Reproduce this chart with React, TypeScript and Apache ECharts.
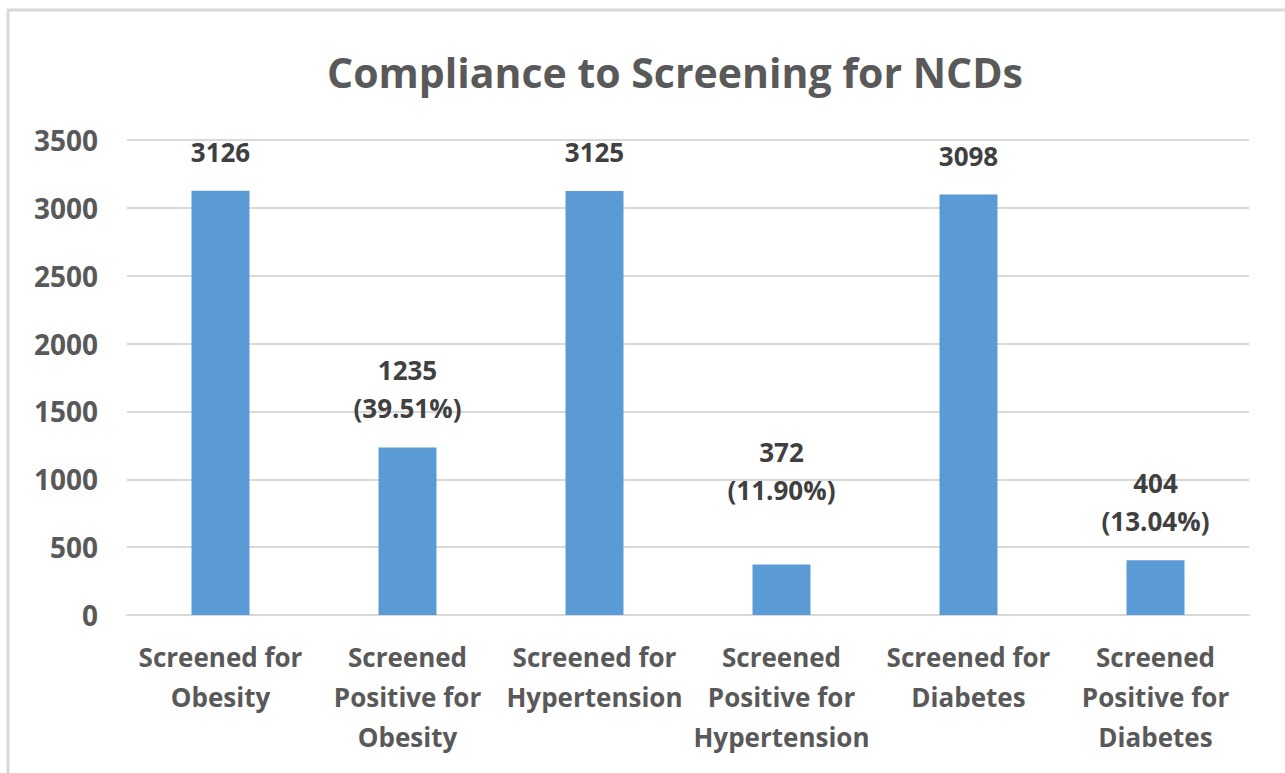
import React, { useEffect, useRef } from "react";
import * as echarts from "echarts";

const categories = [
  "Screened for Obesity",
  "Screened Positive for Obesity",
  "Screened for Hypertension",
  "Screened Positive for Hypertension",
  "Screened for Diabetes",
  "Screened Positive for Diabetes",
];
const values = [3126, 1235, 3125, 372, 3098, 404];
const percentLabels = ["", "39.51%", "", "11.90%", "", "13.04%"];
const yTicks = { min: 0, max: 3500, interval: 500 };
const titleText = "Compliance to Screening for NCDs";

const FONT = "'Open Sans', 'Liberation Sans', sans-serif";

function breakLabel(name: string): string {
  if (name.startsWith("Screened Positive for ")) {
    return "Screened\nPositive for\n" + name.slice("Screened Positive for ".length);
  }
  if (name.startsWith("Screened for ")) {
    return "Screened for\n" + name.slice("Screened for ".length);
  }
  return name;
}

export default function App() {
  const ref = useRef<HTMLDivElement>(null);
  useEffect(() => {
    if (!ref.current) return;
    const chart = echarts.init(ref.current, undefined, { renderer: "svg" });
    const data = values.map((v, i) =>
      i === 3 ? { value: v, label: { distance: 56 } } : { value: v }
    );
    chart.setOption({
      animation: false,
      backgroundColor: "#ffffff",
      title: {
        text: titleText,
        left: 670,
        top: 46,
        textAlign: "center",
        textStyle: {
          fontFamily: FONT,
          fontSize: 41,
          fontWeight: "bold",
          color: "#595959",
        },
      },
      graphic: [
        {
          type: "rect",
          shape: { x: 8, y: 10, width: 1300, height: 800 },
          style: { fill: "none", stroke: "#d9d9d9", lineWidth: 3 },
          silent: true,
        },
      ],
      grid: { left: 127, right: 36, top: 140, bottom: 158, containLabel: false },
      xAxis: {
        type: "category",
        data: categories,
        axisLine: { show: true, lineStyle: { color: "#d9d9d9", width: 2 } },
        axisTick: { show: false },
        axisLabel: {
          interval: 0,
          margin: 22,
          formatter: (v: string) => breakLabel(v),
          fontFamily: FONT,
          fontSize: 26,
          fontWeight: "bold",
          color: "#595959",
          lineHeight: 40,
        },
      },
      yAxis: {
        type: "value",
        min: yTicks.min,
        max: yTicks.max,
        interval: yTicks.interval,
        axisLine: { show: false },
        axisTick: { show: false },
        splitLine: { lineStyle: { color: "#d9d9d9", width: 2 } },
        axisLabel: {
          margin: 29,
          formatter: (v: number) => String(v),
          fontFamily: FONT,
          fontSize: 28,
          fontWeight: "bold",
          color: "#595959",
        },
      },
      series: [
        {
          type: "bar",
          data,
          barWidth: "31%",
          itemStyle: { color: "#5B9BD5" },
          label: {
            show: true,
            position: "top",
            distance: 20,
            fontFamily: FONT,
            fontSize: 26,
            fontWeight: "bold",
            color: "#404040",
            lineHeight: 38,
            formatter: (p: any) =>
              percentLabels[p.dataIndex]
                ? `${p.value}\n(${percentLabels[p.dataIndex]})`
                : `${p.value}`,
          },
        },
      ],
    });
    return () => chart.dispose();
  }, []);
  return (
    <div
      ref={ref}
      style={{ position: "fixed", left: 0, top: 0, width: 1285, height: 773 }}
    />
  );
}
